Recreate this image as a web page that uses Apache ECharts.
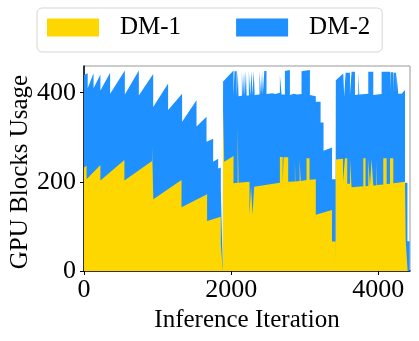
<!DOCTYPE html>
<html>
<head>
<meta charset="utf-8">
<script src="https://cdn.jsdelivr.net/npm/echarts@6/dist/echarts.min.js"></script>
<style>
  html, body { margin: 0; padding: 0; background: #fff; }
  #chart { width: 419px; height: 341px; }
</style>
</head>
<body>
<div id="chart"></div>
<script>
// DM-1 band: outline vertices (inference iteration, GPU blocks)
var dm1Iter = [0, 35, 35, 223, 223, 549, 549, 925, 925, 942, 942, 1325, 1325, 1673, 1673, 1859, 1859, 1886, 1886, 1890,
  1890, 1905, 1905, 2032, 2032, 2088, 2088, 2100, 2100, 2249, 2249, 2270, 2270, 2290, 2290, 2312, 2312,
  2662, 2662, 2700, 2700, 2712, 2712, 2775, 2775, 2866, 2866, 2872, 2872, 2930, 2930, 2945, 2945, 3024, 3024, 3065, 3065,
  3150, 3150, 3370, 3370, 3418, 3418, 3422,
  3422, 3520, 3520, 3546, 3546, 3577, 3577, 3614, 3614, 3636, 3636, 3795, 3795, 3826, 3826, 3863, 3863, 3886, 3886,
  3908, 3908, 3931, 3931, 3972, 3972, 3980, 3980, 4067, 4067, 4112, 4112, 4158, 4158, 4203, 4203, 4362, 4372, 4372, 4398, 4398, 4425];
var dm1Blocks = [232, 236, 206, 238, 203, 249, 203, 247, 278, 278, 161, 204, 143, 172, 112, 122, 60, 62, 0, 0,
  365, 365, 245, 258, 197, 198, 324, 324, 198, 200, 126, 126, 190, 190, 126, 126, 189,
  198, 256, 256, 198, 198, 255, 255, 200, 201, 250, 250, 201, 202, 250, 250, 202, 204, 253, 253, 205,
  206, 126, 137, 66, 66, 0, 0,
  250, 252, 200, 200, 253, 253, 196, 196, 253, 253, 188, 190, 253, 253, 190, 191, 251, 251, 191,
  191, 251, 251, 192, 192, 250, 250, 193, 194, 253, 253, 195, 196, 253, 253, 197, 200, 200, 67, 67, 0, 0];

// top edge of the DM-2 band (stacked on DM-1)
var dm2Iter = [0, 50, 50, 130, 130, 223, 223, 355, 355, 555, 555, 745, 745, 940, 940, 1143, 1143, 1333, 1333, 1529, 1529,
  1665, 1665, 1755, 1755, 1823, 1823, 1859, 1859, 1886, 1886, 1890,
  1890, 1910, 2032, 2032, 2045, 2045, 2075, 2075, 2090, 2090, 2100, 2100, 2145, 2145, 2160, 2160, 2175, 2175, 2185, 2185,
  2200, 2200, 2210, 2210, 2240, 2240, 2260, 2260, 2275, 2275, 2290, 2290, 2305, 2305, 2320, 2320, 2385, 2385, 2405, 2405,
  2420, 2420, 2430, 2430, 2450, 2450, 2480, 2480, 2560, 2600, 2662, 2662, 2685, 2685, 2730, 2730, 2798, 2798, 2850, 2900,
  2956, 2956, 3070, 3070, 3150, 3150, 3215, 3215, 3255, 3255, 3370, 3370, 3418, 3418, 3422,
  3422, 3523, 3536, 3536, 3555, 3555, 3614, 3614, 3636, 3636, 3682, 3682, 3727, 3727, 3741, 3741, 3863, 3863, 3931, 3931,
  4044, 4044, 4158, 4158, 4165, 4165, 4203, 4203, 4210, 4210, 4239, 4239, 4245, 4245, 4271, 4271, 4316, 4362, 4362,
  4395, 4395, 4425, 4425];
var dm2Blocks = [440, 444, 410, 444, 410, 441, 405, 445, 398, 450, 396, 450, 394, 442, 368, 421, 361, 398, 335, 383, 324,
  346, 290, 297, 245, 252, 230, 232, 185, 187, 0, 0,
  425, 428, 450, 392, 392, 448, 448, 392, 392, 447, 447, 392, 393, 448, 448, 393, 393, 447, 447, 393,
  393, 448, 448, 394, 394, 449, 449, 394, 394, 448, 448, 395, 395, 449, 449, 395, 396, 448, 448, 396,
  396, 447, 447, 396, 396, 449, 449, 397, 399, 397, 400, 439, 439, 396, 396, 449, 451, 395, 398, 396,
  397, 448, 451, 395, 392, 380, 380, 333, 333, 270, 277, 206, 206, 0, 0,
  428, 443, 443, 391, 391, 445, 445, 395, 395, 447, 447, 395, 396, 445, 445, 396, 398, 447, 447, 395,
  397, 447, 447, 400, 400, 446, 446, 402, 402, 445, 445, 400, 400, 444, 444, 398, 398, 406, 198,
  198, 67, 67, 0];

var xTicks = [0, 2000, 4000];
var yTicks = [0, 200, 400];

function pairs(xs, ys) {
  return xs.map(function (x, i) { return [x, ys[i]]; });
}

var font = 'Liberation Serif';
var chart = echarts.init(document.getElementById('chart'));
chart.setOption({
  animation: false,
  textStyle: { fontFamily: font },
  legend: {
    left: 37, top: 8,
    data: ['DM-1', 'DM-2'],
    icon: 'rect',
    itemWidth: 52, itemHeight: 18, itemGap: 55,
    padding: [7, 12, 12, 10],
    borderColor: '#d5d5d5', borderWidth: 1, borderRadius: 5,
    textStyle: { fontFamily: font, fontSize: 25, color: '#000', lineHeight: 25, padding: [0, 0, 0, 16] }
  },
  grid: {
    left: 84, right: 9, top: 66, bottom: 70,
    outerBoundsMode: 'none', containLabel: false,
    show: true, borderColor: '#999', borderWidth: 1
  },
  xAxis: {
    type: 'value', min: 0, max: 4430,
    name: 'Inference Iteration', nameLocation: 'middle', nameGap: 37, nameMoveOverlap: false,
    nameTextStyle: { fontFamily: font, fontSize: 25, color: '#000' },
    axisLine: { lineStyle: { color: '#000', width: 1.5 } },
    axisTick: { show: true, length: 4, customValues: xTicks, lineStyle: { color: '#000' } },
    axisLabel: {
      customValues: xTicks, fontFamily: font, fontSize: 26, color: '#000', margin: 6,
      formatter: function (v) { return String(v); }
    },
    splitLine: { show: false }
  },
  yAxis: {
    type: 'value', min: 0, max: 460,
    name: 'GPU Blocks Usage', nameLocation: 'middle', nameGap: 51, nameMoveOverlap: false,
    nameTextStyle: { fontFamily: font, fontSize: 25, color: '#000', padding: [0, 7, 0, 0] },
    axisLine: { show: true, lineStyle: { color: '#000', width: 1.5 } },
    axisTick: { show: true, length: 4, customValues: yTicks, lineStyle: { color: '#000' } },
    axisLabel: { customValues: yTicks, fontFamily: font, fontSize: 26, color: '#000', margin: 8 },
    splitLine: { show: false }
  },
  series: [
    {
      name: 'DM-2', type: 'line', data: pairs(dm2Iter, dm2Blocks),
      showSymbol: false, color: '#1E90FF',
      lineStyle: { width: 0 }, areaStyle: { color: '#1E90FF', opacity: 1 }, z: 1
    },
    {
      name: 'DM-1', type: 'line', data: pairs(dm1Iter, dm1Blocks),
      showSymbol: false, color: '#FFD700',
      lineStyle: { width: 0 }, areaStyle: { color: '#FFD700', opacity: 1 }, z: 2
    }
  ]
});
</script>
</body>
</html>
